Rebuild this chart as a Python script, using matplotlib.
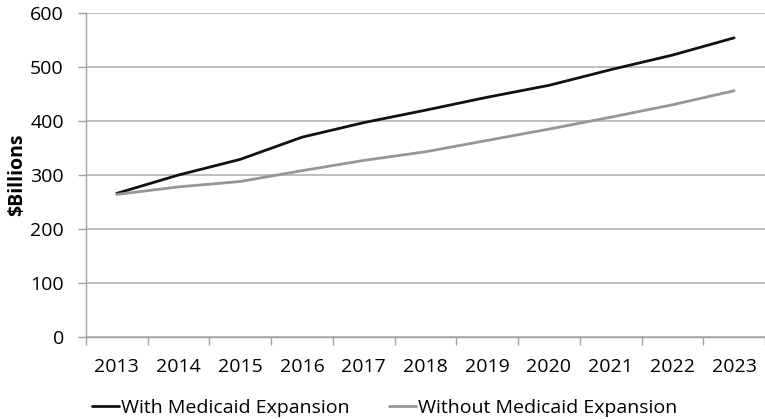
import matplotlib
matplotlib.use("Agg")
import matplotlib.pyplot as plt
import numpy as np

years = ["2013", "2014", "2015", "2016", "2017", "2018", "2019", "2020", "2021", "2022", "2023"]
with_expansion = [266, 300, 329, 370, 397, 420, 444, 466, 495, 522, 554]
without_expansion = [264, 278, 288, 308, 327, 343, 364, 385, 407, 430, 456]

plt.rcParams['font.family'] = ['Open Sans', 'DejaVu Sans']

fig = plt.figure(figsize=(7.65, 4.19), dpi=100)
ax = fig.add_axes([0.1124, 0.1957, 0.8876, 0.7733])

x = np.arange(len(years))
ax.plot(x, with_expansion, color='#111111', lw=2.0, label='With Medicaid Expansion', solid_capstyle='round')
ax.plot(x, without_expansion, color='#969696', lw=2.0, label='Without Medicaid Expansion', solid_capstyle='round')

ax.set_xlim(-0.5, len(years) - 0.5)
ax.set_ylim(0, 600)
ax.set_yticks(np.arange(0, 601, 100))
ax.yaxis.grid(True, color='#b4b4b4', lw=1.2)
ax.set_axisbelow(True)

ax.set_xticks(np.arange(-0.5, len(years), 1.0))
ax.set_xticklabels([])
ax.set_xticks(x, minor=True)
ax.set_xticklabels(years, minor=True)
ax.tick_params(axis='x', which='major', length=6, width=1.0, color='#a0a0a0', direction='out')
ax.tick_params(axis='x', which='minor', length=0, pad=15, labelsize=14)
ax.tick_params(axis='y', length=6, width=1.0, color='#a0a0a0', pad=10, labelsize=14)

for s in ['top', 'right']:
    ax.spines[s].set_visible(False)
for s in ['left', 'bottom']:
    ax.spines[s].set_color('#a0a0a0')
    ax.spines[s].set_linewidth(1.0)

ax.set_ylabel('$Billions', fontsize=14, fontweight='bold', labelpad=2)

fig.legend(loc='center', bbox_to_anchor=(0.503, 0.027), ncol=2, frameon=False,
           fontsize=14, handlelength=1.4, handletextpad=0.1, columnspacing=2.0)

fig.savefig('out.png', dpi=100)
